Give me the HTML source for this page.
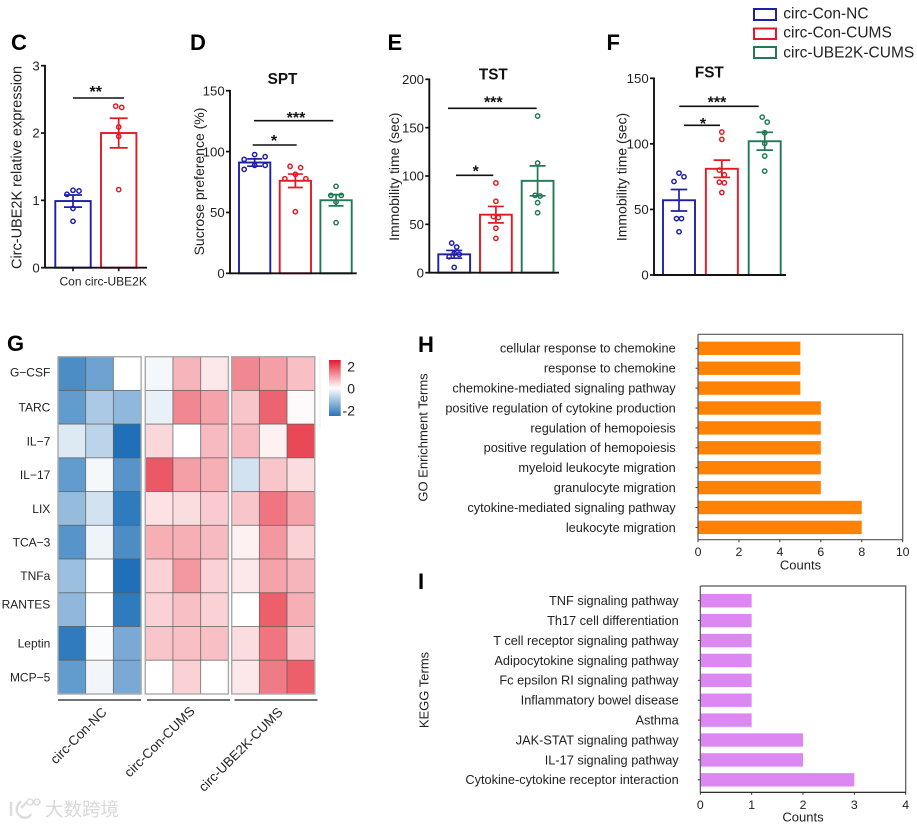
<!DOCTYPE html>
<html lang="en">
<head>
<meta charset="utf-8">
<title>circ-UBE2K behavioural and enrichment figure</title>
<style>
  html, body { margin: 0; padding: 0; background: #fff; }
  #figure { display: block; width: 917px; height: 827px; filter: blur(0.35px);
    font-family: "Liberation Sans", "Noto Sans CJK SC", sans-serif; fill: #222; }
  .letter { font-size: 22px; font-weight: bold; fill: #000; }
  .title { font-size: 15.3px; font-weight: bold; text-anchor: middle; fill: #111; }
  .ytitle { font-size: 14px; text-anchor: middle; fill: #222; }
  .legend-text { font-size: 15.5px; fill: #222; }
</style>
</head>
<body>
<svg id="figure" xmlns="http://www.w3.org/2000/svg" width="917" height="827" viewBox="0 0 917 827">
  <defs>
    <linearGradient id="cbGrad" x1="0" y1="0" x2="0" y2="1">
      <stop offset="0" stop-color="#e41a2c"/>
      <stop offset="0.5" stop-color="#ffffff"/>
      <stop offset="1" stop-color="#2a74b8"/>
    </linearGradient>
  </defs>
  <rect width="917" height="827" fill="#fff"/>

  <text class="letter" x="11" y="50">C</text>
  <text class="letter" x="190" y="50">D</text>
  <text class="letter" x="387.5" y="50">E</text>
  <text class="letter" x="606.5" y="50">F</text>
  <text class="letter" x="7" y="351">G</text>
  <text class="letter" x="418" y="352">H</text>
  <text class="letter" x="418" y="589">I</text>

  <g>
    <rect x="754" y="9" width="22" height="11" fill="none" stroke="#1f1fa8" stroke-width="2"/>
    <text class="legend-text" x="783.3" y="18.3">circ-Con-NC</text>
    <rect x="754" y="28.5" width="22" height="10.5" fill="none" stroke="#e31a23" stroke-width="2"/>
    <text class="legend-text" x="783.3" y="37.3">circ-Con-CUMS</text>
    <rect x="754" y="47" width="22" height="11" fill="none" stroke="#1f7a55" stroke-width="2"/>
    <text class="legend-text" x="783.3" y="57.3">circ-UBE2K-CUMS</text>
  </g>

  <text class="ytitle" style="font-size:14.5px" transform="translate(21.5,167.5) rotate(-90)">Circ-UBE2K relative expression</text>
  <text class="ytitle" transform="translate(204,181.5) rotate(-90)">Sucrose preference (%)</text>
  <text class="ytitle" transform="translate(399,176.7) rotate(-90)">Immobility time (sec)</text>
  <text class="ytitle" transform="translate(626.7,177) rotate(-90)">Immobility time (sec)</text>

  <text class="title" x="282.5" y="84">SPT</text>
  <text class="title" x="493.3" y="79.7">TST</text>
  <text class="title" x="709.3" y="77.5">FST</text>

  <text x="59.5" y="285.5" font-size="12" fill="#222">Con circ-UBE2K</text>

  <text transform="translate(427.5,437.5) rotate(-90)" text-anchor="middle" font-size="13" fill="#222">GO Enrichment Terms</text>
  <text x="800.5" y="569.5" text-anchor="middle" font-size="13" fill="#222">Counts</text>
  <text transform="translate(428.5,690) rotate(-90)" text-anchor="middle" font-size="13" fill="#222">KEGG Terms</text>
  <text x="803" y="821.5" text-anchor="middle" font-size="13" fill="#222">Counts</text>

  <line x1="320" y1="356" x2="320" y2="428" stroke="#eee" stroke-width="1"/>
  <rect x="329" y="360" width="11.7" height="56" fill="url(#cbGrad)"/>

  <line x1="58" y1="700" x2="141" y2="700" stroke="#444" stroke-width="1.6"/>
  <line x1="147" y1="700" x2="230" y2="700" stroke="#444" stroke-width="1.6"/>
  <line x1="234.5" y1="700" x2="317.5" y2="700" stroke="#444" stroke-width="1.6"/>
  <text transform="translate(107.5,713) rotate(-45)" text-anchor="end" font-size="13.3" fill="#222">circ-Con-NC</text>
  <text transform="translate(195.5,712) rotate(-45)" text-anchor="end" font-size="13.3" fill="#222">circ-Con-CUMS</text>
  <text transform="translate(283.5,713) rotate(-45)" text-anchor="end" font-size="13.3" fill="#222">circ-UBE2K-CUMS</text>

  <g>
    <path d="M11 802 V816 M21 801 C16 806 15 812 20 816 C24 819 29 818 31 814 M21 808 L27 802" fill="none" stroke="#dcdcdc" stroke-width="2.4"/>
    <circle cx="30" cy="802" r="3" fill="none" stroke="#dcdcdc" stroke-width="1.5"/>
    <circle cx="37" cy="802" r="3" fill="none" stroke="#dcdcdc" stroke-width="1.5"/>
    <text x="45" y="816" font-size="18.5" fill="#d9d9d9" font-family="'Noto Sans CJK SC', sans-serif">大数跨境</text>
  </g>
</svg>

<script>
/* ---------- Panel C ---------- */
const cTicks = [0, 1, 2, 3];
const cMeans = [0.99, 2.0];
const cErrors = [0.09, 0.22];
const cConPoints = [1.15, 1.14, 1.09, 0.88, 0.69];
const cUbePoints = [2.40, 2.38, 2.09, 1.95, 1.16];

/* ---------- Panel D (SPT) ---------- */
const dTicks = [0, 50, 100, 150];
const dMeans = [91, 76, 60];
const dErrors = [3, 5.5, 4.6];
const dNcPoints = [97.5, 95.8, 93.6, 88.7, 88.7, 85.4];
const dCumsPoints = [87.9, 86.8, 81.3, 77.7, 77.7, 50.6];
const dUbePoints = [71.4, 64, 64, 58.6, 41.6];

/* ---------- Panel E (TST) ---------- */
const eTicks = [0, 50, 100, 150, 200];
const eMeans = [19, 60, 95];
const eErrors = [4, 8.5, 15.5];
const eNcPoints = [30.7, 26.6, 20, 19, 16.5, 5.5];
const eCumsPoints = [92.8, 73.8, 58, 57, 46, 35.5];
const eUbePoints = [162, 113.4, 80, 79.3, 72.4, 62];

/* ---------- Panel F (FST) ---------- */
const fTicks = [0, 50, 100, 150];
const fMeans = [57, 81, 102];
const fErrors = [8.2, 6.6, 6.8];
const fNcPoints = [77.7, 74.9, 71.3, 43, 43, 33];
const fCumsPoints = [109, 103.4, 80, 76.4, 70.8, 70.3, 62.9];
const fUbePoints = [120.4, 116.6, 108.5, 100.3, 90.7, 79.2];

/* ---------- Panel G (heatmap) ---------- */
const heatRows = ['G\u2212CSF', 'TARC', 'IL\u22127', 'IL\u221217', 'LIX', 'TCA\u22123', 'TNFa', 'RANTES', 'Leptin', 'MCP\u22125'];
const heatGCsf   = [-1.6, -1.3, 0,    -0.1, 0.65, 0.2,   1.05, 0.85, 0.55];
const heatTarc   = [-1.4, -0.75, -1.0, -0.2, 1.05, 0.8,  0.5, 1.35, 0.05];
const heatIl7    = [-0.3, -0.6, -2,   0.35, 0, 0.6,      0.6, 0.12, 1.6];
const heatIl17   = [-1.4, -0.1, -1.5, 1.45, 0.85, 0.7,   -0.4, 0.5, 0.3];
const heatLix    = [-0.95, -0.4, -1.85, 0.25, 0.3, 0.45, 0.5, 1.2, 0.8];
const heatTca3   = [-1.5, -0.15, -1.6, 0.7, 0.7, 0.6,    0.12, 0.9, 0.4];
const heatTnfa   = [-0.9, 0, -2,      0.4, 0.9, 0.4,     0.2, 0.8, 0.65];
const heatRantes = [-1, 0, -1.85,     0.4, 0.55, 0.4,    0, 1.4, 0.7];
const heatLeptin = [-1.85, -0.05, -1.2, 0.5, 0.55, 0.55, 0.3, 1.2, 0.5];
const heatMcp5   = [-1.4, -0.12, -1.2, 0, 0.4, 0,        0.2, 1.15, 1.4];
const heatMatrix = [heatGCsf, heatTarc, heatIl7, heatIl17, heatLix, heatTca3, heatTnfa, heatRantes, heatLeptin, heatMcp5];
const colorbarTicks = [2, 0, -2];

/* ---------- Panel H (GO) ---------- */
const goTerms = ['cellular response to chemokine', 'response to chemokine', 'chemokine-mediated signaling pathway', 'positive regulation of cytokine production', 'regulation of hemopoiesis', 'positive regulation of hemopoiesis', 'myeloid leukocyte migration', 'granulocyte migration', 'cytokine-mediated signaling pathway', 'leukocyte migration'];
const goCounts = [5, 5, 5, 6, 6, 6, 6, 6, 8, 8];
const goTicks = [0, 2, 4, 6, 8, 10];

/* ---------- Panel I (KEGG) ---------- */
const keggTerms = ['TNF signaling pathway', 'Th17 cell differentiation', 'T cell receptor signaling pathway', 'Adipocytokine signaling pathway', 'Fc epsilon RI signaling pathway', 'Inflammatory bowel disease', 'Asthma', 'JAK-STAT signaling pathway', 'IL-17 signaling pathway', 'Cytokine-cytokine receptor interaction'];
const keggCounts = [1, 1, 1, 1, 1, 1, 1, 2, 2, 3];
const keggTicks = [0, 1, 2, 3, 4];

const SVGNS = 'http://www.w3.org/2000/svg';
const fig = document.getElementById('figure');
const BLUE = '#1f1fa8', RED = '#e31a23', GREEN = '#1f7a55';

function mk(tag, attrs, parent) {
  const el = document.createElementNS(SVGNS, tag);
  for (const k in attrs) el.setAttribute(k, attrs[k]);
  parent.appendChild(el);
  return el;
}

/* Dots that would overlap are pushed sideways, then each touching cluster is re-centred. */
function swarm(ys, spacing, minGap) {
  const order = ys.map((y, i) => i).sort((a, b) => ys[a] - ys[b]);
  const offsets = new Array(ys.length).fill(0);
  let cluster = [];
  function flush() {
    const slots = [0, 1, -1, 2, -2, 3, -3];
    cluster.forEach(function (idx, n) { offsets[idx] = slots[n % slots.length] * spacing; });
    const mean = cluster.reduce((s, idx) => s + offsets[idx], 0) / cluster.length;
    cluster.forEach(function (idx) { offsets[idx] -= mean; });
    cluster = [];
  }
  order.forEach(function (i) {
    if (cluster.length && ys[i] - ys[cluster[cluster.length - 1]] >= minGap) flush();
    cluster.push(i);
  });
  if (cluster.length) flush();
  return offsets;
}

function drawBarPanel(key, f, ticks, means, errors, pointSets, colors) {
  const panel = mk('g', {}, fig);
  
  
  const yScale = v => f.y0 - (v / f.max) * (f.y0 - f.y1);

  means.forEach(function (m, i) {
    const x = f.first + i * f.step;
    const bar = mk('rect', { x: x, y: yScale(m), width: f.w, height: f.y0 - yScale(m), fill: 'none', stroke: colors[i], 'stroke-width': 1.9 }, panel);
    
    

    const cx = x + f.w / 2;
    const hi = yScale(m + errors[i]), lo = yScale(m - errors[i]);
    const eb = mk('path', { d: 'M' + cx + ' ' + hi + 'V' + lo + 'M' + (cx - f.cap) + ' ' + hi + 'H' + (cx + f.cap) + 'M' + (cx - f.cap) + ' ' + lo + 'H' + (cx + f.cap), fill: 'none', stroke: colors[i], 'stroke-width': 1.7 }, panel);
    
    

    const ys = pointSets[i].map(yScale);
    const offs = swarm(ys, f.spread, 5.2);
    ys.forEach(function (y, j) {
      const dot = mk('circle', { cx: cx + offs[j], cy: y, r: 2.15, fill: 'none', stroke: colors[i], 'stroke-width': 1.5 }, panel);
      
      
    });

    if (f.xTicks) {
      const xt = mk('line', { x1: cx, x2: cx, y1: f.y0, y2: f.y0 + 3.5, stroke: '#111', 'stroke-width': 1.6 }, panel);
      
      
    }
  });

  const yAxis = mk('line', { x1: f.x, x2: f.x, y1: f.y1 - 0.8, y2: f.y0 + 0.8, stroke: '#111', 'stroke-width': 1.9 }, panel);
  
  
  const xAxis = mk('line', { x1: f.x, x2: f.xEnd, y1: f.y0, y2: f.y0, stroke: '#111', 'stroke-width': 1.9 }, panel);
  
  

  ticks.forEach(function (t) {
    const y = yScale(t);
    const tk = mk('line', { x1: f.x - 4, x2: f.x, y1: y, y2: y, stroke: '#111', 'stroke-width': 1.7 }, panel);
    
    
    const lb = mk('text', { x: f.x - 5.3, y: y + 4.7, 'text-anchor': 'end', 'font-size': 13.2, fill: '#222' }, panel);
    lb.textContent = t;
    
    
  });
}

function drawSig(name, x1, x2, y, starX, starY, stars) {
  const ln = mk('line', { x1: x1, x2: x2, y1: y, y2: y, stroke: '#111', 'stroke-width': 1.6 }, fig);
  
  
  const st = mk('text', { x: starX, y: starY + 9, 'text-anchor': 'middle', 'font-size': 16, 'font-weight': 'bold', fill: '#111' }, fig);
  st.textContent = stars;
  
  
}

drawBarPanel('c', { x: 45, xEnd: 147, y0: 267.7, y1: 65.7, max: 3, first: 55.3, step: 45.7, w: 35.4, cap: 9, spread: 6, xTicks: true },
  cTicks, cMeans, cErrors, [cConPoints, cUbePoints], [BLUE, RED]);
drawBarPanel('d', { x: 230, xEnd: 356.7, y0: 273.3, y1: 90.7, max: 150, first: 239, step: 40.7, w: 31.3, cap: 7.5, spread: 10.5 },
  dTicks, dMeans, dErrors, [dNcPoints, dCumsPoints, dUbePoints], [BLUE, RED, GREEN]);
drawBarPanel('e', { x: 429.3, xEnd: 559, y0: 272.7, y1: 79.3, max: 200, first: 438.3, step: 41.7, w: 31.8, cap: 8, spread: 5 },
  eTicks, eMeans, eErrors, [eNcPoints, eCumsPoints, eUbePoints], [BLUE, RED, GREEN]);
drawBarPanel('f', { x: 654, xEnd: 786, y0: 275, y1: 78.3, max: 150, first: 663, step: 42.85, w: 32, cap: 8.3, spread: 5 },
  fTicks, fMeans, fErrors, [fNcPoints, fCumsPoints, fUbePoints], [BLUE, RED, GREEN]);

drawSig('c', 73, 124, 98, 95.7, 88, '**');
drawSig('d-near', 252.7, 296.7, 145, 274, 137, '*');
drawSig('d-far', 254, 333.3, 120.7, 296, 114, '***');
drawSig('e-near', 456, 493.3, 175.3, 475.7, 167.3, '*');
drawSig('e-far', 448, 536.7, 108.3, 493.3, 98.3, '***');
drawSig('f-near', 684, 720, 125.3, 703, 120, '*');
drawSig('f-far', 679.3, 758.7, 106.3, 717, 98.3, '***');

/* ---------- Heatmap ---------- */
function heatColor(v) {
  const t = Math.min(1, Math.abs(v) / 2);
  const base = v < 0 ? [31, 112, 184] : [228, 26, 44];
  const c = base.map(b => Math.round(255 - (255 - b) * t));
  return 'rgb(' + c.join(',') + ')';
}

const heat = mk('g', {}, fig);


const hTop = 356.7, hRow = 33.73, hCol = 27.7;
const hGroupX = [58, 145.3, 231.7];
const colX = i => hGroupX[Math.floor(i / 3)] + (i % 3) * hCol;
const rowY = r => hTop + r * hRow;

heatMatrix.forEach(function (row, r) {
  row.forEach(function (v, c) {
    const cell = mk('rect', { x: colX(c), y: rowY(r), width: hCol, height: hRow, fill: heatColor(v), stroke: '#555', 'stroke-opacity': 0.6, 'stroke-width': 0.9 }, heat);
    
    
  });
  const nudge = heatRows[r] === 'RANTES' ? -5.5 : (r === 0 ? -1.5 : 0);
  const lb = mk('text', { x: 50.3, y: rowY(r) + hRow / 2 + 4.3 + nudge, 'text-anchor': 'end', 'font-size': 12, fill: '#222' }, heat);
  lb.textContent = heatRows[r];
  
  
});
hGroupX.forEach(function (x, g) {
  const box = mk('rect', { x: x, y: hTop, width: hCol * 3, height: hRow * heatRows.length, fill: 'none', stroke: '#aaa', 'stroke-width': 1.4 }, heat);
  
  
});
colorbarTicks.forEach(function (t) {
  const lb = mk('text', { x: 355, y: 388.5 - t * 11 + 5, 'text-anchor': 'end', 'font-size': 14, fill: '#222' }, fig);
  lb.textContent = t;
  
  
});

/* ---------- Horizontal bar panels ---------- */
function drawHBar(key, f, terms, counts, ticks, color, bottomColor) {
  const panel = mk('g', {}, fig);
  
  
  const xScale = v => f.x0 + (v / f.max) * (f.x1 - f.x0);
  const bandY = i => f.firstY + i * f.stepY;

  counts.forEach(function (c, i) {
    const bar = mk('rect', { x: f.x0, y: bandY(i) - 6.7, width: xScale(c) - f.x0, height: 13.4, fill: color }, panel);
    
    
    const tk = mk('line', { x1: f.x0 - 2.5, x2: f.x0, y1: bandY(i), y2: bandY(i), stroke: '#333', 'stroke-width': 1 }, panel);
    
    
    const lb = mk('text', { x: f.labelX, y: bandY(i) + 4.4, 'text-anchor': 'end', 'font-size': 12.75, fill: '#222' }, panel);
    lb.textContent = terms[i];
    
    
  });

  const frame = mk('path', { d: 'M' + f.x0 + ' ' + f.y1 + 'V' + f.y0 + 'M' + f.x0 + ' ' + f.y0 + 'H' + f.x1 + 'V' + f.y1, fill: 'none', stroke: '#555', 'stroke-width': 1.2 }, panel);
  
  
  const base = mk('line', { x1: f.x0, x2: f.x1, y1: f.y1, y2: f.y1, stroke: bottomColor, 'stroke-width': 1.2 }, panel);
  
  

  ticks.forEach(function (t) {
    const x = xScale(t);
    const tk = mk('line', { x1: x, x2: x, y1: f.y1, y2: f.y1 + 2.5, stroke: '#333', 'stroke-width': 1 }, panel);
    
    
    const lb = mk('text', { x: x, y: f.y1 + 16.5, 'text-anchor': 'middle', 'font-size': 12.3, fill: '#222' }, panel);
    lb.textContent = t;
    
    
  });
}

drawHBar('go', { x0: 698, x1: 902.7, y0: 334.3, y1: 539.7, max: 10, firstY: 348.3, stepY: 19.9, labelX: 675.7 },
  goTerms, goCounts, goTicks, '#ff8205', '#555');
drawHBar('kegg', { x0: 700.3, x1: 905.7, y0: 586, y1: 792.3, max: 4, firstY: 600.7, stepY: 19.9, labelX: 678.7 },
  keggTerms, keggCounts, keggTicks, '#dd88f2', '#111');
</script>
</body>
</html>
